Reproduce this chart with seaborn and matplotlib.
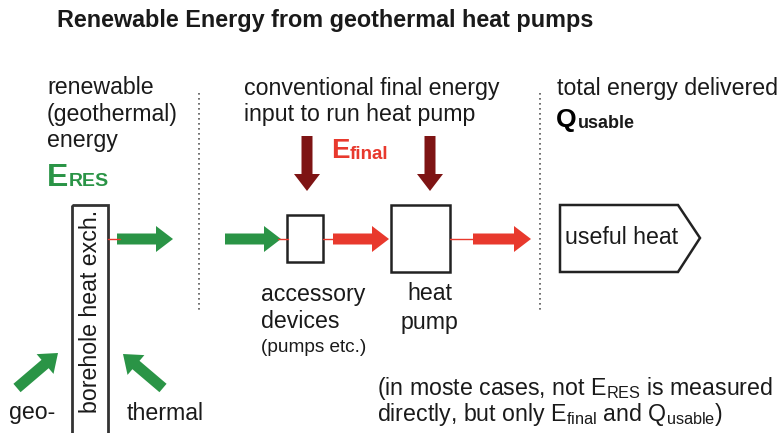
import seaborn as sns
import matplotlib.pyplot as plt
from matplotlib.patches import FancyArrow, Rectangle, Polygon

# Labels used in the diagram
title = "Renewable Energy from geothermal heat pumps"
left_lines = ["renewable", "(geothermal)", "energy"]
mid_lines = ["conventional final energy", "input to run heat pump"]
right_line = "total energy delivered"
acc_lines = ["accessory", "devices"]
acc_note = "(pumps etc.)"
hp_lines = ["heat", "pump"]
borehole_label = "borehole heat exch."
ground_labels = ["geo-", "thermal"]
useful_label = "useful heat"
note_lines = [r"(in moste cases, not E$_{\mathrm{RES}}$ is measured",
              r"directly, but only E$_{\mathrm{final}}$ and Q$_{\mathrm{usable}}$)"]

# Colours
green = "#2a9446"
red = "#e8392d"
dark_red = "#7e1414"
ink = "#1a1a1a"

sns.set_theme(style="white")
plt.rcParams['font.family'] = ['Liberation Sans', 'DejaVu Sans']
plt.rcParams['mathtext.fontset'] = 'custom'
plt.rcParams['mathtext.rm'] = 'Liberation Sans'

fig = plt.figure(figsize=(7.84, 4.33), dpi=100)
ax = fig.add_axes([0, 0, 1, 1])
ax.set_xlim(0, 784)
ax.set_ylim(433, 0)
ax.axis('off')

fs = 16.7

# Title
ax.text(57, 20, title, fontsize=16.8, fontweight='bold', color=ink, va='center')

# Left column text
for i, line in enumerate(left_lines):
    ax.text(47, 88 + 26 * i, line, fontsize=fs, color=ink, va='center')
ax.text(47, 186, "E", fontsize=23, fontweight='bold', color=green, va='baseline')
ax.text(69, 186, "RES", fontsize=14, fontweight='bold', color=green, va='baseline')

# Middle column text
for i, line in enumerate(mid_lines):
    ax.text(244, 88 + 26 * i, line, fontsize=fs, color=ink, va='center')
ax.text(331, 158, "E", fontsize=20, fontweight='bold', color=red, va='baseline')
ax.text(350, 159, "final", fontsize=13.5, fontweight='bold', color=red, va='baseline')

# Right column text
ax.text(557, 88, right_line, fontsize=fs, color=ink, va='center')
ax.text(556, 127, "Q", fontsize=19, fontweight='bold', color='black', va='baseline')
ax.text(578, 128, "usable", fontsize=13, fontweight='bold', color=ink, va='baseline')

# Dotted separators
for x in [199, 540]:
    ax.plot([x, x], [93, 310], color='#555555', linestyle=(0, (1, 2)), linewidth=1.2)

# Borehole heat exchanger
ax.add_patch(Rectangle((72, 205), 36, 240, fill=False, edgecolor='#333333', linewidth=2))
ax.text(91, 311, borehole_label, fontsize=fs, color=ink, rotation=90,
        ha='center', va='center')

# Boxes
ax.add_patch(Rectangle((287, 215), 36, 47, fill=False, edgecolor='#222222', linewidth=1.8))
ax.add_patch(Rectangle((391, 205), 59, 67, fill=False, edgecolor='#222222', linewidth=1.8))
ax.add_patch(Polygon([(560, 205), (678, 205), (700, 238), (678, 272), (560, 272)],
                     closed=True, fill=False, edgecolor='#222222', linewidth=1.8))
ax.text(565, 238, useful_label, fontsize=fs, color=ink, va='center')

# Thin connecting lines
for x0, x1 in [(108, 120), (278, 288), (323, 336), (450, 475)]:
    ax.plot([x0, x1], [239, 239], color=red, linewidth=1)


def fat_arrow(x0, y0, x1, y1, color):
    ax.add_patch(FancyArrow(x0, y0, x1 - x0, y1 - y0, width=11, head_width=26,
                            head_length=17, length_includes_head=True,
                            color=color, linewidth=0))


# Horizontal flow
fat_arrow(117, 239, 173, 239, green)
fat_arrow(225, 239, 281, 239, green)
fat_arrow(333, 239, 389, 239, red)
fat_arrow(473, 239, 531, 239, red)

# Final energy input
fat_arrow(307, 136, 307, 191, dark_red)
fat_arrow(430, 136, 430, 191, dark_red)

# Ground heat
fat_arrow(17, 388, 58, 353, green)
fat_arrow(163, 388, 123, 354, green)

ax.text(9, 413, ground_labels[0], fontsize=fs, color=ink, va='center')
ax.text(127, 413, ground_labels[1], fontsize=fs, color=ink, va='center')

# Accessory and heat pump labels
for i, line in enumerate(acc_lines):
    ax.text(261, 294 + 28 * i, line, fontsize=fs, color=ink, va='center')
ax.text(261, 347, acc_note, fontsize=13.7, color=ink, va='center')
for i, line in enumerate(hp_lines):
    ax.text(430, 294 + 28 * i, line, fontsize=fs, color=ink, va='center', ha='center')

# Note (one text block so the lines sit together)
ax.text(377, 402, "\n".join(note_lines), fontsize=fs, color=ink, va='center',
        linespacing=0.95)

fig.savefig("out.png", dpi=100)
